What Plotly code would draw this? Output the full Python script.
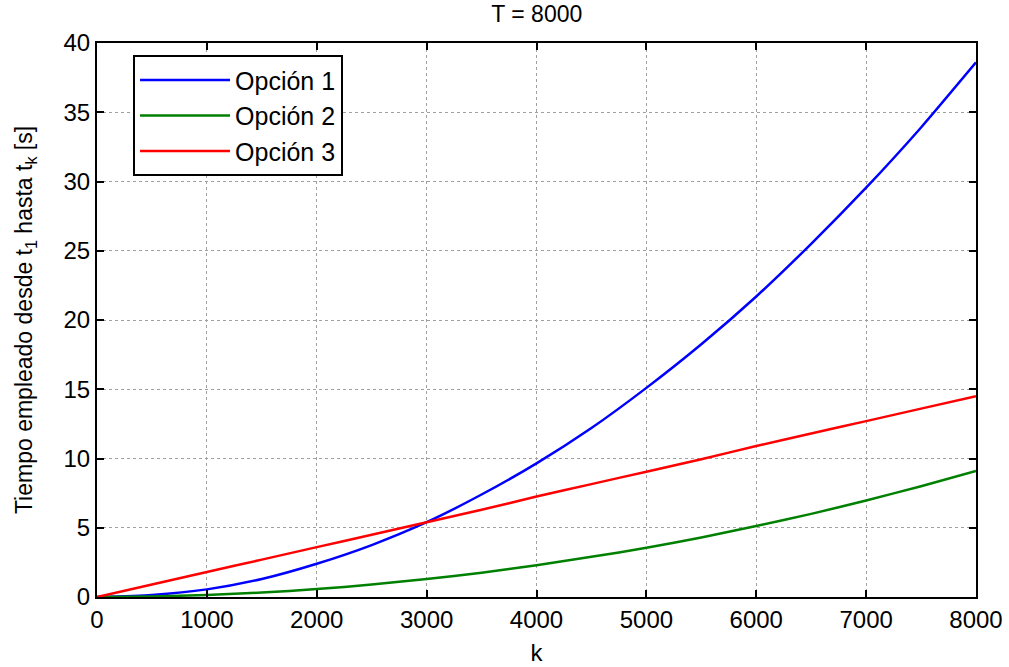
import plotly.graph_objects as go

k = [0, 500, 1000, 1500, 2000, 2500, 3000, 3500, 4000, 4500, 5000, 5500, 6000, 6500, 7000, 7500, 8000]
opcion1 = [0, 0.15, 0.55, 1.3, 2.4, 3.75, 5.4, 7.4, 9.65, 12.2, 15.1, 18.25, 21.7, 25.5, 29.55, 33.9, 38.6]
opcion2 = [0, 0.04, 0.15, 0.32, 0.57, 0.9, 1.3, 1.75, 2.3, 2.9, 3.55, 4.3, 5.13, 6.0, 6.97, 8.0, 9.1]
opcion3 = [0, 0.9, 1.8, 2.7, 3.6, 4.5, 5.4, 6.3, 7.25, 8.15, 9.05, 9.95, 10.9, 11.8, 12.7, 13.6, 14.5]

names = ["Opción 1", "Opción 2", "Opción 3"]
colors = ["#0000ff", "#008000", "#ff0000"]

fig = go.Figure()
for name, ys, c in zip(names, [opcion1, opcion2, opcion3], colors):
    fig.add_trace(go.Scatter(x=k, y=ys, mode="lines", name=name,
                             line=dict(color=c, width=2.5, shape="spline", smoothing=0.6)))

axis_common = dict(showline=True, linecolor="black", linewidth=2, mirror="allticks",
                   ticks="inside", ticklen=7, tickwidth=2, tickcolor="black",
                   showgrid=True, gridcolor="#a0a0a0", griddash="dot", gridwidth=1,
                   zeroline=False, automargin=False, tickfont=dict(size=24, color="black"))

fig.update_xaxes(range=[0, 8000], dtick=1000,
                 title=dict(text="k", font=dict(size=24, color="black"), standoff=12),
                 **axis_common)
fig.update_yaxes(range=[0, 40], dtick=5,
                 title=dict(text="Tiempo empleado desde t<sub>1</sub> hasta t<sub>k</sub> [s]",
                            font=dict(size=23, color="black"), standoff=24),
                 **axis_common)

fig.update_layout(
    width=1009, height=667,
    margin=dict(l=97, r=33, t=43, b=70),
    paper_bgcolor="white", plot_bgcolor="white",
    font=dict(family="Liberation Sans, Arial, sans-serif", color="black"),
    title=dict(text="T = 8000", x=0.532, xanchor="center", y=0.979, yanchor="middle",
               font=dict(size=23, color="black")),
    legend=dict(x=0.041, y=0.978, xanchor="left", yanchor="top",
                bgcolor="white", bordercolor="black", borderwidth=2,
                itemwidth=90,
                font=dict(size=25, color="black"), tracegroupgap=0),
    showlegend=True,
)

fig.write_html("out.html")
